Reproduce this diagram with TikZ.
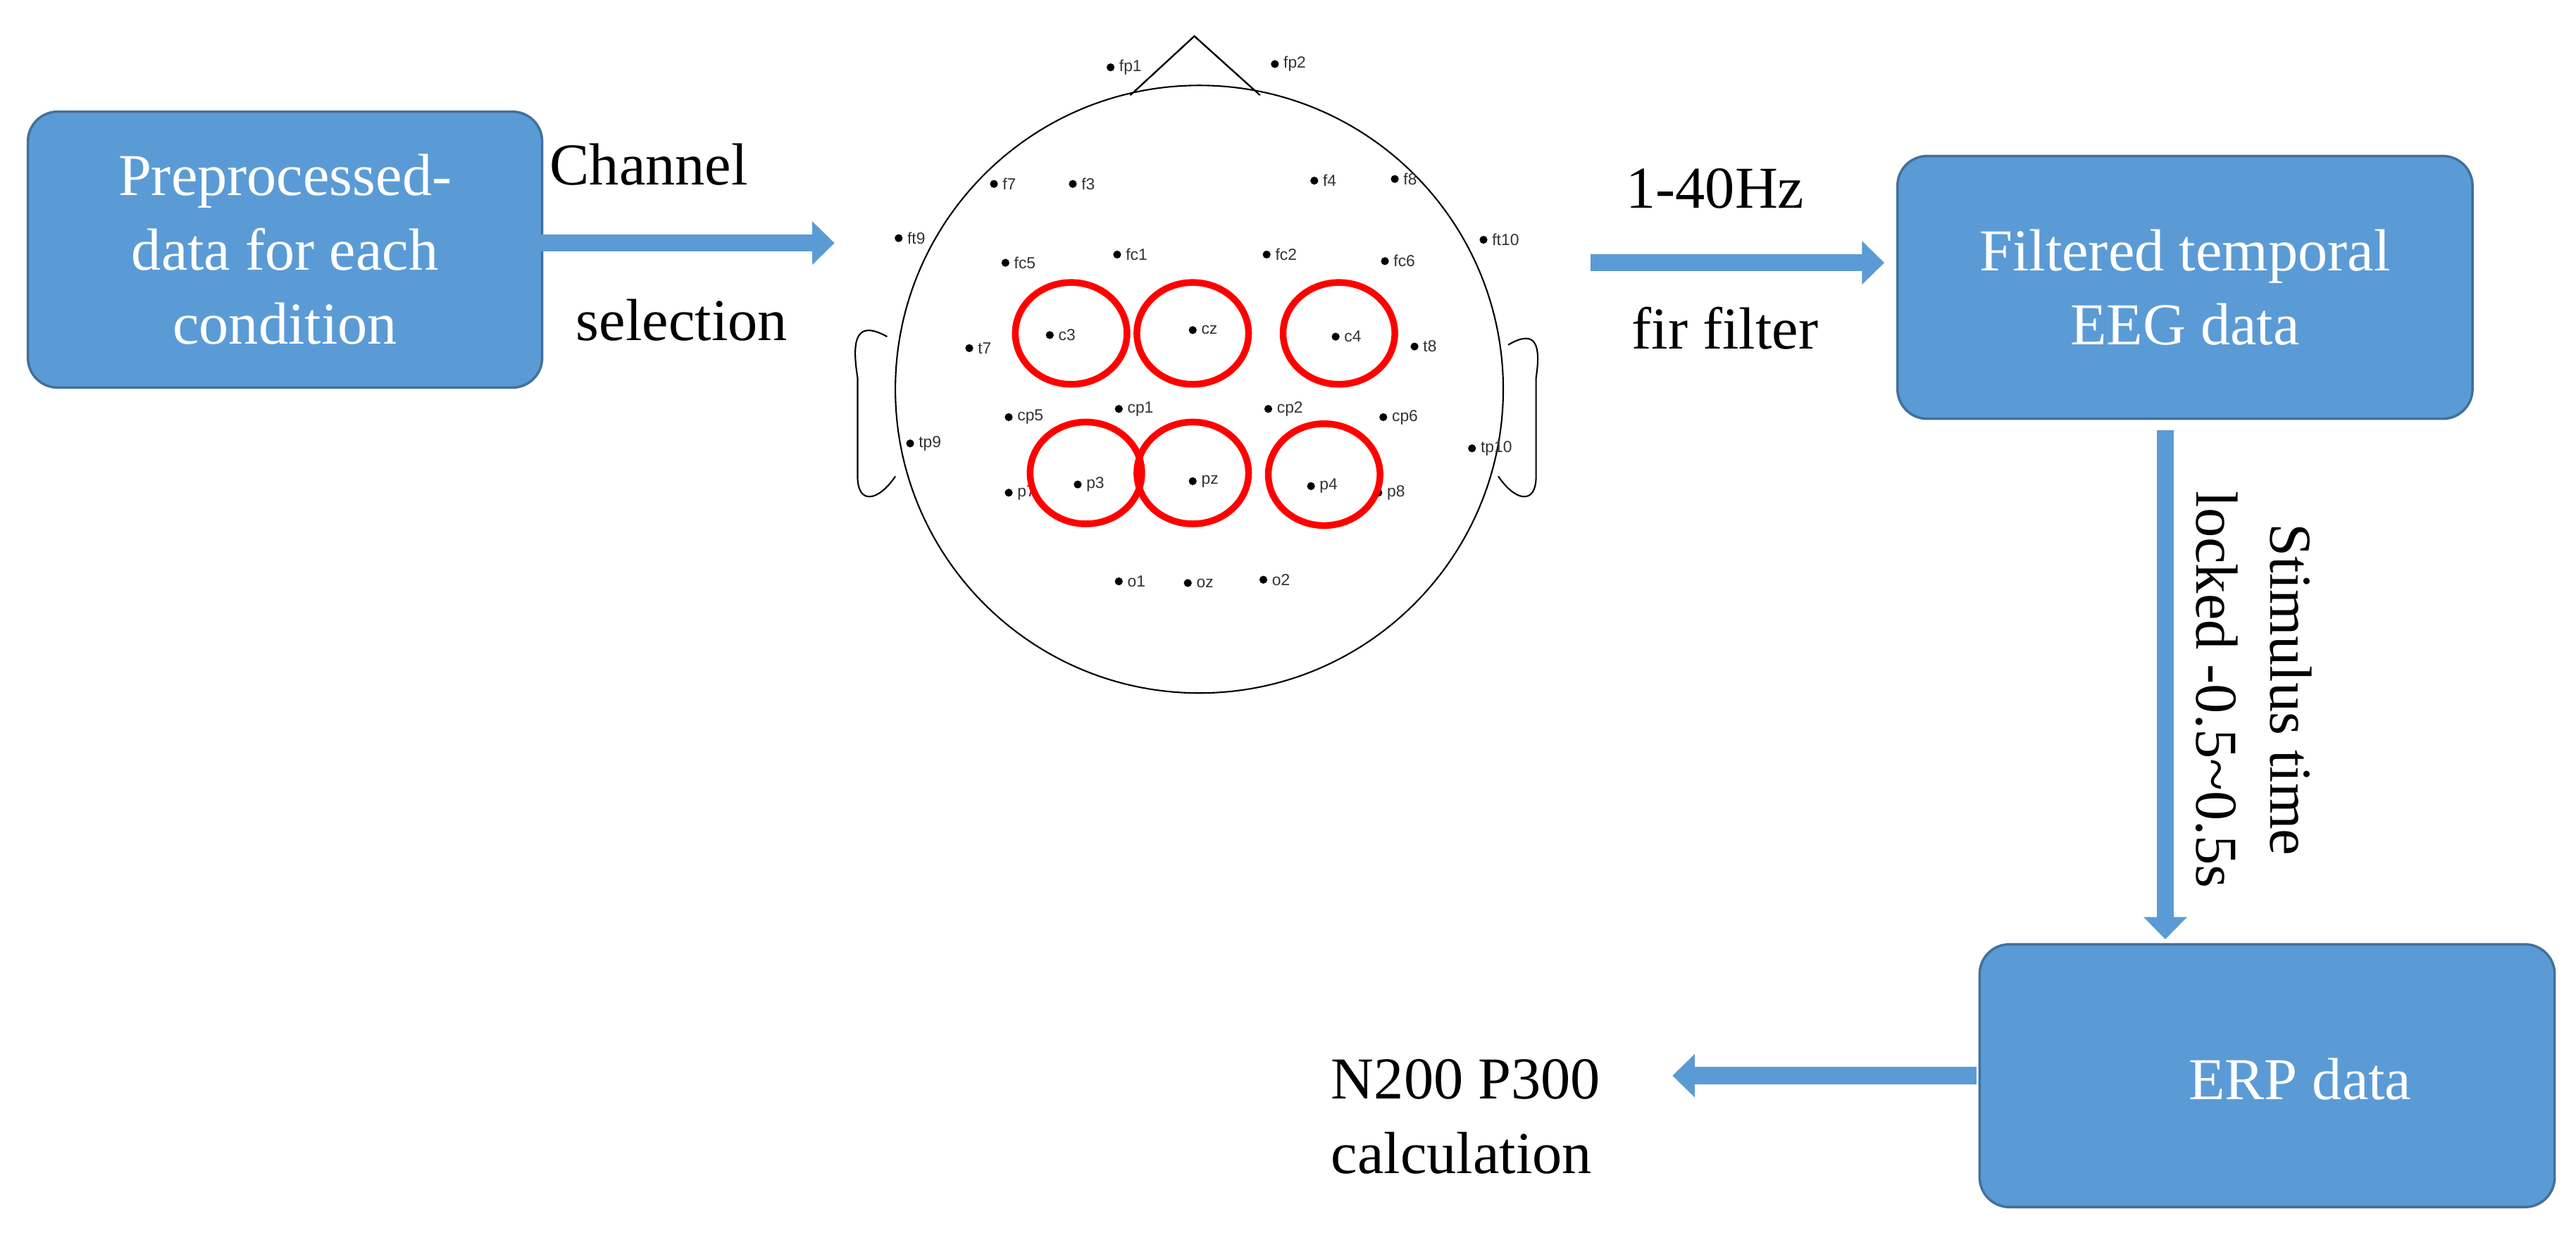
\documentclass[tikz,border=0pt]{standalone}
\usepackage{fontspec}
\setmainfont{Liberation Serif}
\newfontfamily\elfont{Liberation Sans}
\usetikzlibrary{arrows.meta}
\definecolor{bfill}{HTML}{5B9BD5}
\definecolor{bdraw}{HTML}{41719C}
\begin{document}
\begin{tikzpicture}[x=0.02332cm,y=-0.02332cm,
  box/.style={draw=bdraw,line width=1pt,fill=bfill,rounded corners=12pt,text=white,align=center,font=\fontsize{24}{30}\selectfont},
  arr/.style={draw=bfill,line width=7pt,-{Triangle[width=17pt,length=9pt]}},
  lbl/.style={font=\fontsize{24}{30}\selectfont},
  el/.style={circle,fill=black,inner sep=0pt,minimum size=3.2pt},
  elt/.style={font=\elfont\fontsize{6.5}{7}\selectfont,text=black!80,inner sep=1pt},
  sel/.style={draw=red,line width=2.7pt}]
\useasboundingbox (0,0) rectangle (1568,755);
% boxes
\path[box] (17,68) rectangle (330,236);
\node[box,draw=none,fill=none] (b1) at (173.5,152) {Preprocessed-\\data for each\\condition};
\path[box] (1155,95) rectangle (1505,255);
\node[box,draw=none,fill=none] (b2) at (1330,175) {Filtered temporal\\EEG data};
\path[box] (1205,575) rectangle (1555,735);
\node[box,draw=none,fill=none] (b3) at (1400,657) {ERP data};
% head
\coordinate (hc) at (730,237);
\draw[line width=0.6pt,fill=white] (688,58) -- (727,22) -- (767,58);
\draw[line width=0.6pt] (540,205) .. controls (522,195) and (518,205) .. (522,230) -- (522,290) .. controls (522,308) and (535,305) .. (545,290);
\draw[line width=0.6pt] (918,210) .. controls (935,200) and (938,210) .. (935,230) -- (935,290) .. controls (935,308) and (922,305) .. (912,290);
\draw[line width=0.6pt,fill=white] (hc) circle (185);
\draw[line width=0.6pt] (688,58) -- (727,22) -- (767,58);
% electrodes
\foreach \n/\x/\y in {fp1/676/41,fp2/776/39,f7/605/112,f3/653/112,f4/800/110,f8/849/109,ft9/547/145,ft10/903/146,fc5/612/160,fc1/680/155,fc2/771/155,fc6/843/159,t7/590/212,c3/639/204,cz/726/201,c4/813/205,t8/861/211,cp5/614/254,cp1/681/249,cp2/772/249,cp6/842/254,tp9/554/270,tp10/896/273,p7/614/300,p3/656/295,pz/726/293,p4/798/296,p8/839/300,o1/681/354,oz/723/355,o2/769/353}{
  \node[el] (e\n) at (\x,\y) {};
  \node[elt,anchor=west] (t\n) at ([xshift=0.5pt]e\n.east) {\n};
}
% selected channels
\foreach \n/\x/\y in {c3/652/203,cz/726/203,c4/815/203,p3/661/288,pz/726/288,p4/806/289}{
  \draw[sel] (\x,\y) ellipse (34 and 31);
}
% arrows
\coordinate (a1s) at (323,148); \coordinate (a1e) at (508,148);
\draw[arr] (a1s) -- (a1e);
\node[lbl] (l1a) at (395,100) {Channel};
\node[lbl] (l1b) at (415,195) {selection};
\coordinate (a2s) at (968,160); \coordinate (a2e) at (1147,160);
\draw[arr] (a2s) -- (a2e);
\node[lbl] (l2a) at (1044,115) {1-40Hz};
\node[lbl] (l2b) at (1050,200) {fir filter};
\coordinate (a3s) at (1318,262); \coordinate (a3e) at (1318,572);
\draw[arr] (a3s) -- (a3e);
\node[lbl,rotate=-90,align=center] (l3) at (1372,420) {Stimulus time\\locked -0.5\textasciitilde0.5s};
\coordinate (a4s) at (1203,655); \coordinate (a4e) at (1018,655);
\draw[arr] (a4s) -- (a4e);
\node[lbl,align=left,anchor=west] (l4) at (805,680) {N200 P300\\calculation};
\end{tikzpicture}
\end{document}
